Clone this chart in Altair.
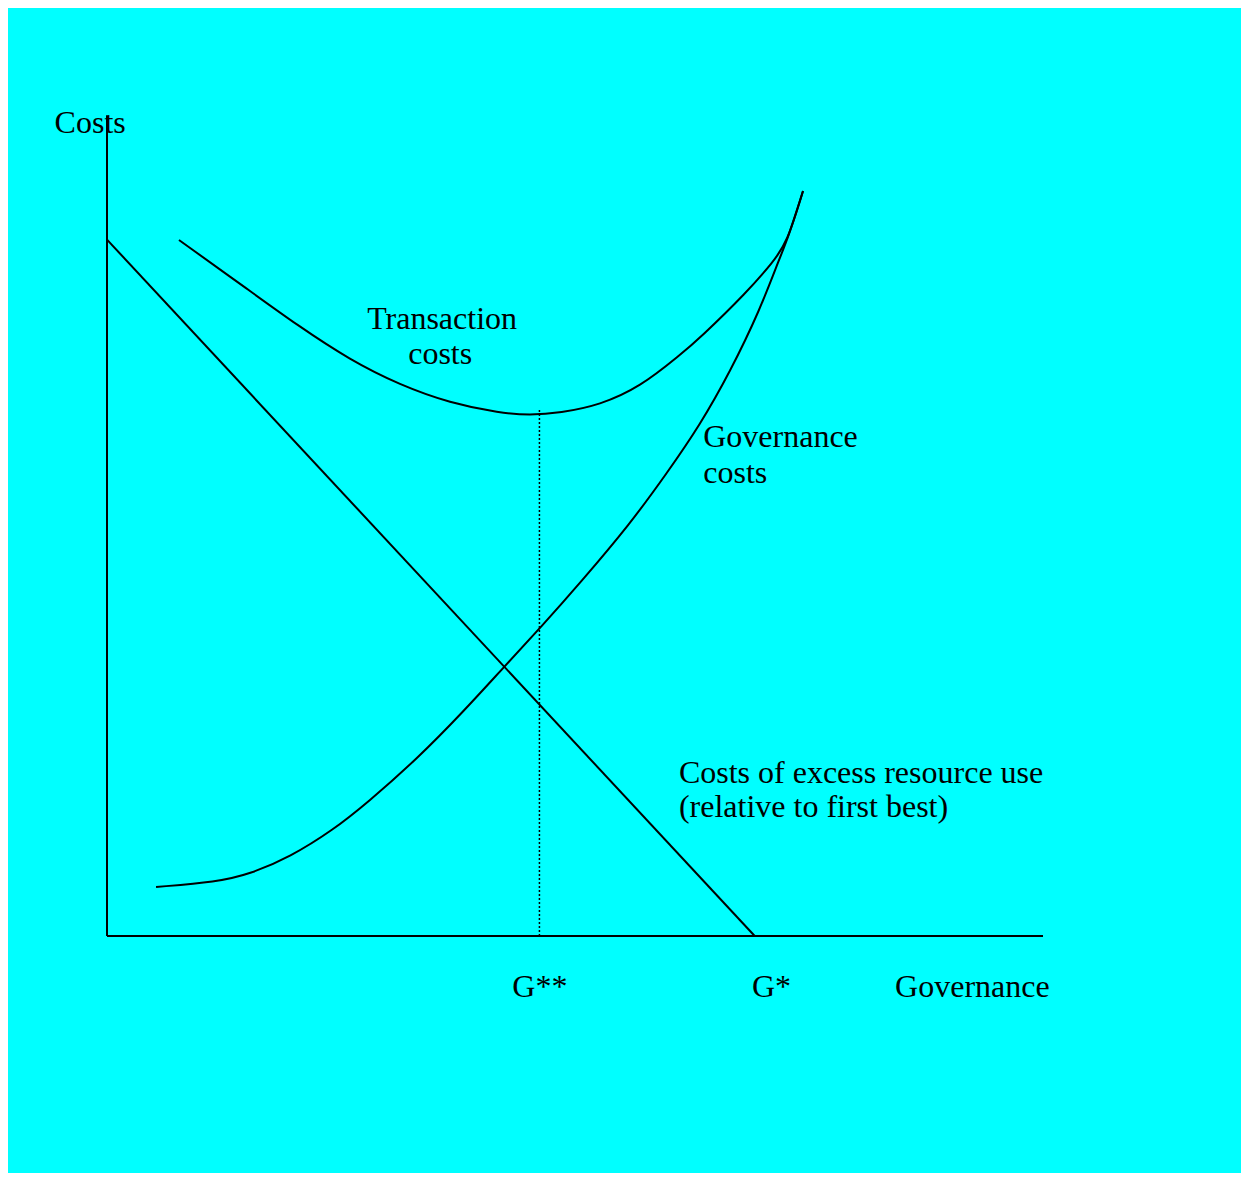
import altair as alt
import pandas as pd

# Transaction costs curve (Governance, Costs)
tc_x = [7.69, 15.28, 20.30, 25.96, 31.30, 36.65, 41.99, 45.19, 48.40, 52.67, 56.94, 61.22, 63.35, 68.38, 71.15, 72.65, 74.36]
tc_y = [74.36, 68.91, 65.28, 61.54, 58.87, 56.94, 55.88, 55.64, 55.88, 56.73, 58.65, 62.07, 63.89, 68.80, 72.01, 74.04, 79.59]

# Governance costs curve
gc_x = [5.24, 11.75, 15.28, 19.55, 24.15, 27.78, 33.12, 38.03, 42.31, 46.47, 50.53, 55.88, 59.83, 63.35, 66.56, 69.76, 71.90, 72.76, 74.36]
gc_y = [5.24, 5.77, 6.62, 8.44, 11.32, 14.21, 18.91, 23.93, 28.63, 33.12, 37.71, 44.02, 49.47, 54.59, 60.26, 66.88, 72.54, 74.57, 79.59]

# Costs of excess resource use (straight line)
er_x = [0.0, 69.2]
er_y = [74.4, 0.0]

# G** marker and axes extents
g2_x = 46.2
g2_top = 56.4
x_axis_end = 100.0
y_axis_top = 87.7

# Left-aligned labels
lbl_text = ["Costs", "Governance", "costs", "Costs of excess resource use",
            "(relative to first best)", "G**", "G*", "Governance"]
lbl_x = [-5.6, 63.7, 63.7, 61.1, 61.1, 43.3, 68.9, 84.2]
lbl_y = [85.8, 52.2, 48.4, 16.35, 12.7, -6.5, -6.5, -6.5]

# Centered labels
clbl_text = ["Transaction", "costs"]
clbl_x = [35.8, 35.6]
clbl_y = [64.85, 61.1]

xs = alt.Scale(domain=[0, 100], range=[99, 1035], nice=False, zero=False)
ys = alt.Scale(domain=[0, 100], range=[928, -8], nice=False, zero=False)

X = lambda f: alt.X(f, type="quantitative", scale=xs, axis=None)
Y = lambda f: alt.Y(f, type="quantitative", scale=ys, axis=None)

tc_df = pd.DataFrame({"g": tc_x, "c": tc_y, "o": range(len(tc_x))})
gc_df = pd.DataFrame({"g": gc_x, "c": gc_y, "o": range(len(gc_x))})
er_df = pd.DataFrame({"g": er_x, "c": er_y, "o": range(len(er_x))})

axes_df = pd.DataFrame({"g": [0.0], "c": [0.0], "g2": [x_axis_end], "c2": [y_axis_top]})
g2_df = pd.DataFrame({"g": [g2_x], "c": [0.0], "c2": [g2_top]})
lbl_df = pd.DataFrame({"t": lbl_text, "g": lbl_x, "c": lbl_y})
clbl_df = pd.DataFrame({"t": clbl_text, "g": clbl_x, "c": clbl_y})

def curve(df):
    return alt.Chart(df).mark_line(color="black", strokeWidth=2, interpolate="basis").encode(
        x=X("g"), y=Y("c"), order=alt.Order("o:Q")
    )

tc = curve(tc_df)
gc = curve(gc_df)
er = alt.Chart(er_df).mark_line(color="black", strokeWidth=2).encode(x=X("g"), y=Y("c"), order=alt.Order("o:Q"))

vaxis = alt.Chart(axes_df).mark_rule(color="black", strokeWidth=2).encode(x=X("g"), y=Y("c"), y2="c2")
haxis = alt.Chart(axes_df).mark_rule(color="black", strokeWidth=2).encode(x=X("g"), x2="g2", y=Y("c"))
dotted = alt.Chart(g2_df).mark_rule(color="black", strokeWidth=1.5, strokeDash=[2, 2]).encode(
    x=X("g"), y=Y("c"), y2="c2"
)

font = "Liberation Serif"
labels = alt.Chart(lbl_df).mark_text(
    align="left", baseline="alphabetic", font=font, fontSize=32, color="black"
).encode(x=X("g"), y=Y("c"), text="t:N")
clabels = alt.Chart(clbl_df).mark_text(
    align="center", baseline="alphabetic", font=font, fontSize=32, color="black"
).encode(x=X("g"), y=Y("c"), text="t:N")

chart = alt.layer(vaxis, haxis, dotted, er, tc, gc, labels, clabels).properties(
    width=1233, height=1165, background="#00FFFF", padding=0,
    autosize=alt.AutoSizeParams(type="none")
).configure_view(stroke=None)

chart.save("out.html", embed_options={"renderer": "svg", "actions": False})
